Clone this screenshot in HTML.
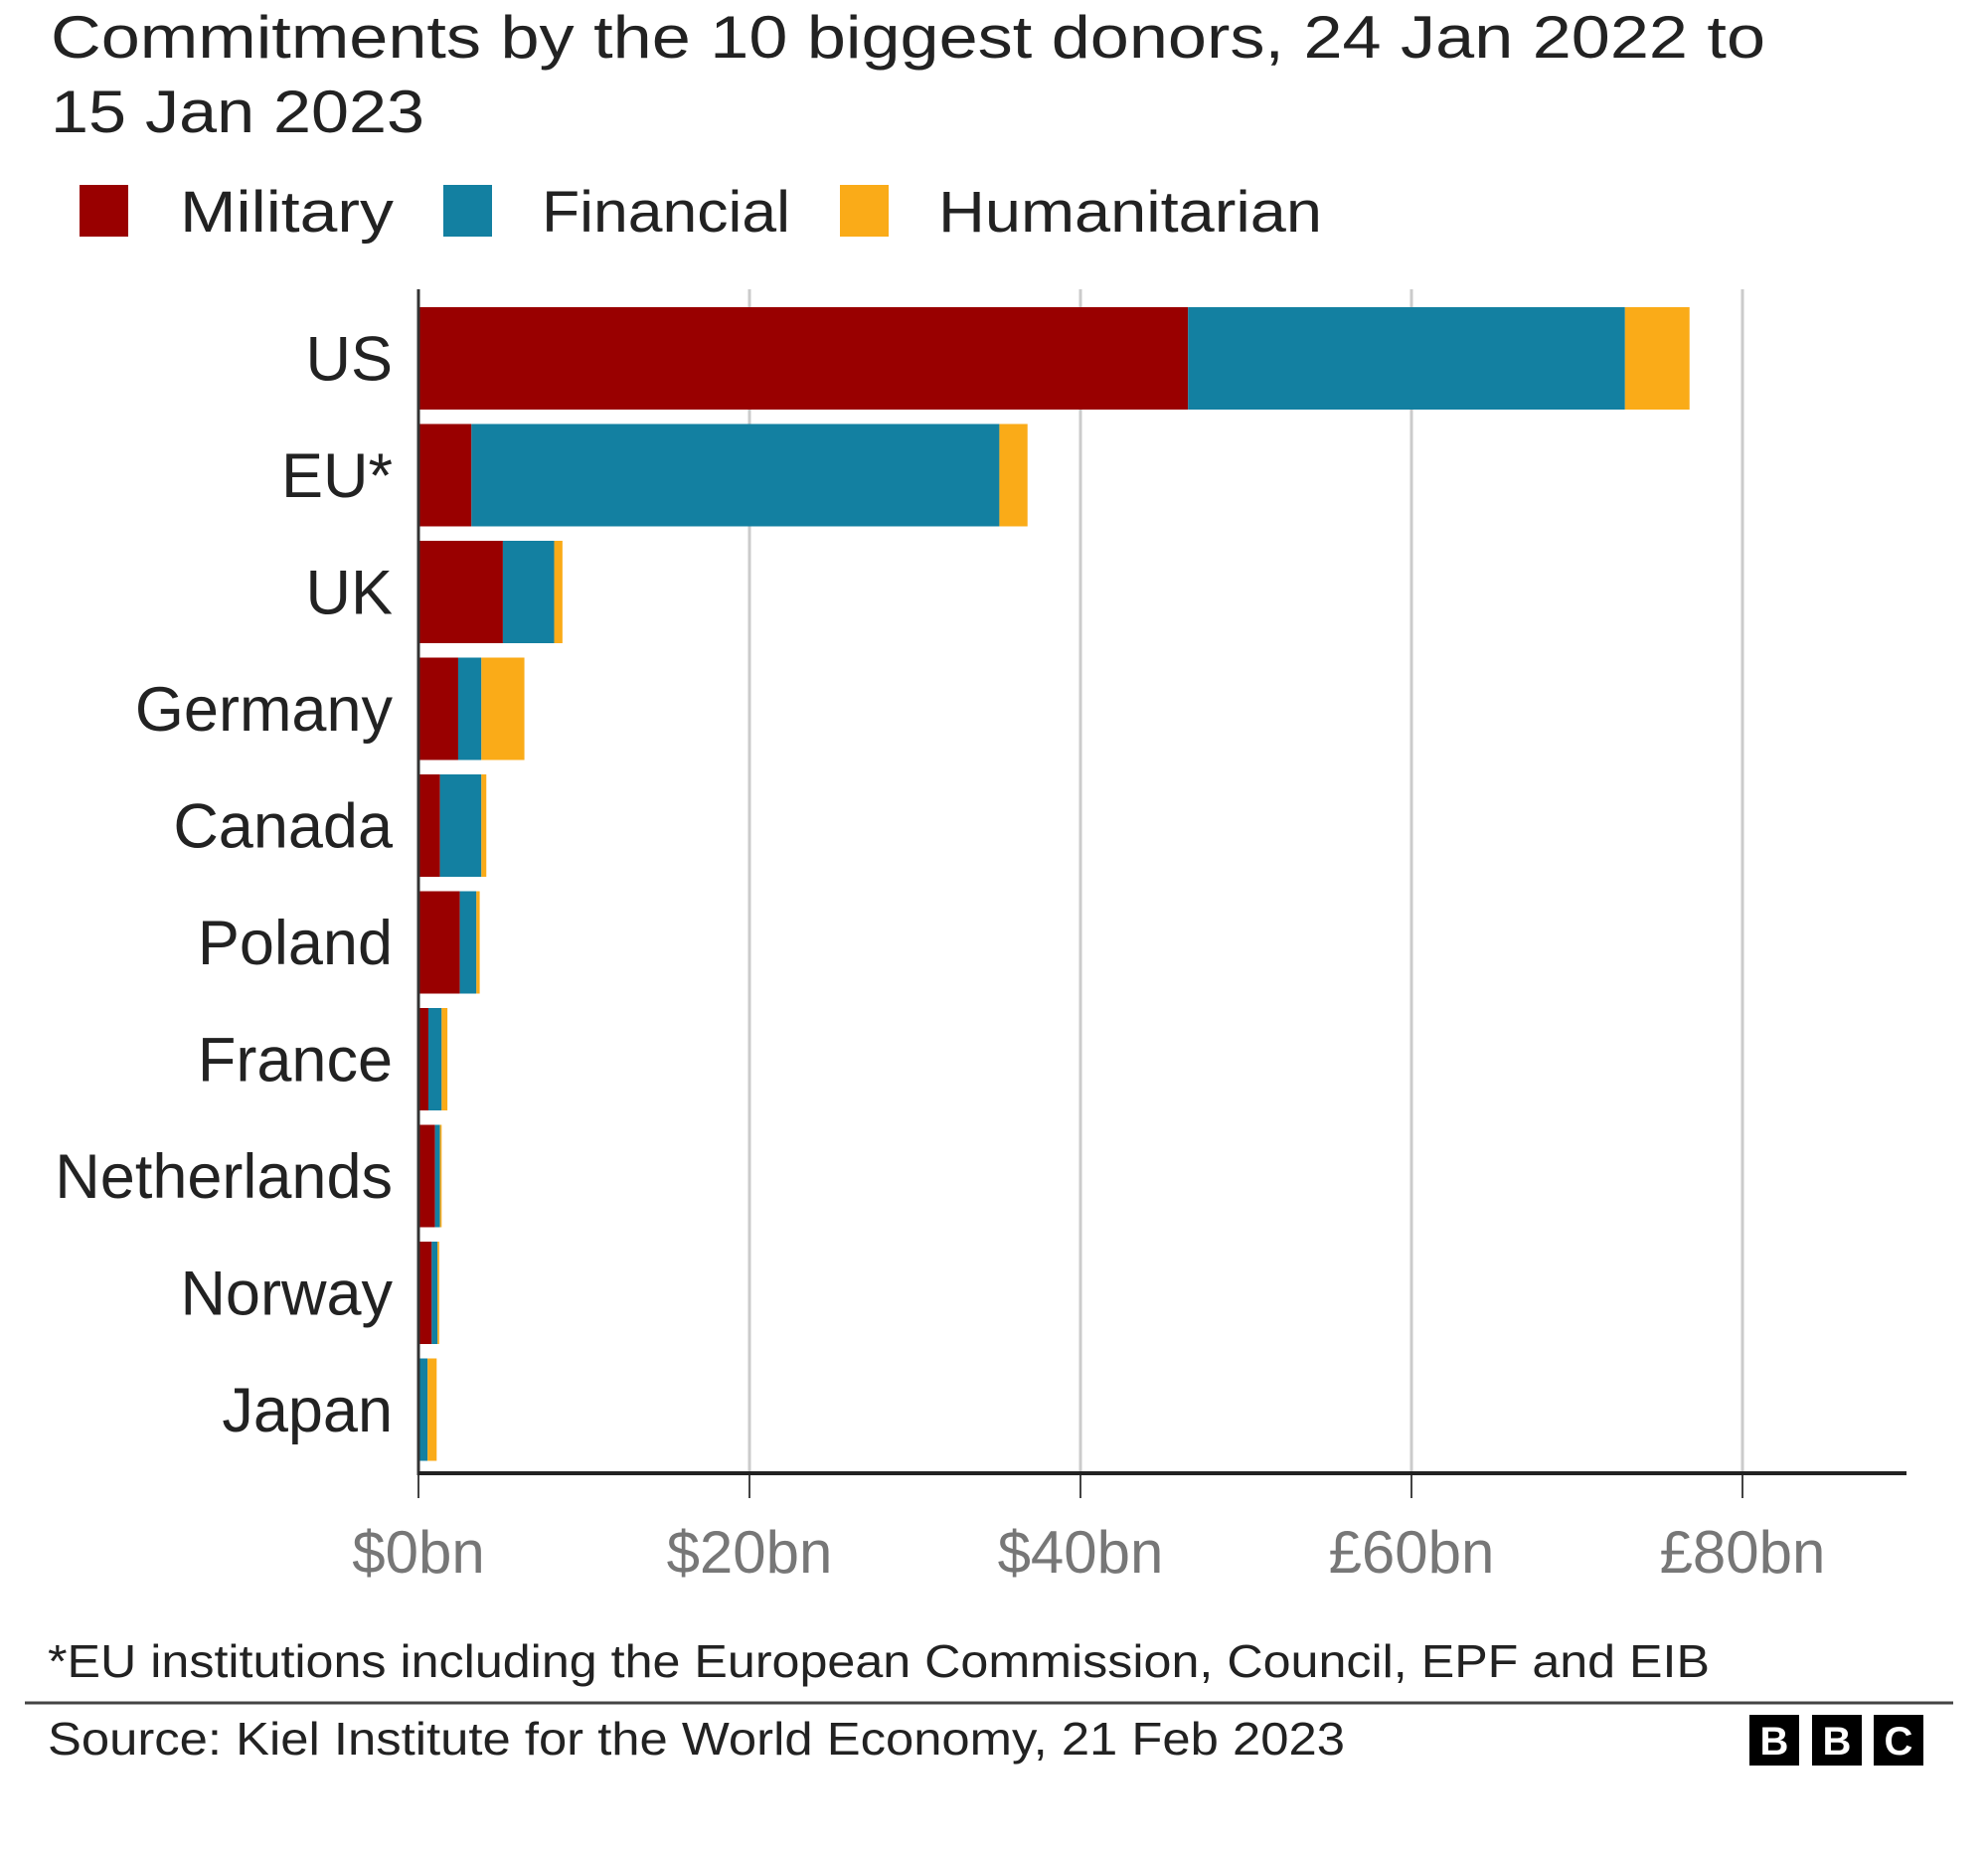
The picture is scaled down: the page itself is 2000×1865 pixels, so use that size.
<!DOCTYPE html>
<html><head><meta charset="utf-8"><style>
html,body{margin:0;padding:0;background:#fff;}
svg{display:block;font-family:"Liberation Sans",sans-serif;}
</style></head>
<body>
<svg id="chart" width="2000" height="1865" viewBox="0 0 2000 1865">
  <text x="51" y="58" font-size="60" fill="#222" textLength="1725" lengthAdjust="spacingAndGlyphs">Commitments by the 10 biggest donors, 24 Jan 2022 to</text>
  <text x="51" y="133" font-size="60" fill="#222" textLength="376" lengthAdjust="spacingAndGlyphs">15 Jan 2023</text>
  <g>
    <rect x="80" y="186" width="49" height="52" fill="#990000"/>
    <text x="181" y="233" font-size="58" fill="#222" textLength="215" lengthAdjust="spacingAndGlyphs">Military</text>
    <rect x="446" y="186" width="49" height="52" fill="#1380a1"/>
    <text x="545" y="233" font-size="58" fill="#222" textLength="250" lengthAdjust="spacingAndGlyphs">Financial</text>
    <rect x="845" y="186" width="49" height="52" fill="#faab18"/>
    <text x="944" y="233" font-size="58" fill="#222" textLength="386" lengthAdjust="spacingAndGlyphs">Humanitarian</text>
  </g>
  <g id="grid"></g>
  <g id="bars"></g>
  <g id="ylabels"></g>
  <g id="xaxis"></g>
  <text x="48" y="1687" font-size="46" fill="#222" textLength="1672" lengthAdjust="spacingAndGlyphs">*EU institutions including the European Commission, Council, EPF and EIB</text>
  <line x1="25" y1="1713" x2="1965" y2="1713" stroke="#444" stroke-width="3"/>
  <text x="48" y="1765" font-size="46" fill="#222" textLength="1305" lengthAdjust="spacingAndGlyphs">Source: Kiel Institute for the World Economy, 21 Feb 2023</text>
  <g>
    <rect x="1760" y="1725" width="50" height="51" fill="#000"/>
    <rect x="1823" y="1725" width="50" height="51" fill="#000"/>
    <rect x="1885" y="1725" width="50" height="51" fill="#000"/>
    <text x="1785" y="1765" font-size="40" font-weight="bold" fill="#fff" text-anchor="middle">B</text>
    <text x="1848" y="1765" font-size="40" font-weight="bold" fill="#fff" text-anchor="middle">B</text>
    <text x="1910" y="1765" font-size="40" font-weight="bold" fill="#fff" text-anchor="middle">C</text>
  </g>
</svg>
<script>
const categories = ["US","EU*","UK","Germany","Canada","Poland","France","Netherlands","Norway","Japan"];
const military = [46.5, 3.2, 5.1, 2.4, 1.3, 2.5, 0.6, 1.0, 0.8, 0];
const financial = [26.4, 31.9, 3.1, 1.4, 2.5, 1.0, 0.8, 0.3, 0.35, 0.55];
const humanitarian = [3.9, 1.7, 0.5, 2.6, 0.3, 0.2, 0.35, 0.1, 0.1, 0.55];
const tickValues = [0, 20, 40, 60, 80];
const tickLabels = ["$0bn","$20bn","$40bn","£60bn","£80bn"];

const NS = "http://www.w3.org/2000/svg";
const X0 = 421, PX_PER_BN = 333/20;
const xScale = v => X0 + v * PX_PER_BN;
const TOP = 309, STEP = 117.5, BAR_H = 103;
const yScale = i => TOP + i * STEP;
function mk(tag, attrs, parent) {
  const e = document.createElementNS(NS, tag);
  for (const k in attrs) e.setAttribute(k, attrs[k]);
  parent.appendChild(e);
  return e;
}
const grid = document.getElementById("grid");
const bars = document.getElementById("bars");
const ylabels = document.getElementById("ylabels");
const xaxis = document.getElementById("xaxis");

tickValues.forEach((v, i) => {
  if (v > 0) {
    const g = mk("line", {x1: xScale(v), x2: xScale(v), y1: 291, y2: 1482, stroke: "#cbcbcb", "stroke-width": 3}, grid);
    
    
  }
  const t = mk("line", {x1: xScale(v), x2: xScale(v), y1: 1482, y2: 1507, stroke: "#444", "stroke-width": 2}, xaxis);
  
  
  const l = mk("text", {x: xScale(v), y: 1582, "font-size": 60, fill: "#777", "text-anchor": "middle"}, xaxis);
  l.textContent = tickLabels[i];
  
  
});
const axY = mk("line", {x1: X0, x2: X0, y1: 291, y2: 1484, stroke: "#333", "stroke-width": 3}, xaxis);


const axX = mk("line", {x1: X0, x2: 1918, y1: 1482, y2: 1482, stroke: "#222", "stroke-width": 4}, xaxis);



const series = [["military", military, "#990000"], ["financial", financial, "#1380a1"], ["humanitarian", humanitarian, "#faab18"]];
categories.forEach((c, i) => {
  let acc = 0;
  series.forEach(([name, vals, col]) => {
    const v = vals[i];
    if (v > 0) {
      const r = mk("rect", {x: xScale(acc), y: yScale(i), width: xScale(acc + v) - xScale(acc), height: BAR_H, fill: col}, bars);
      
      
    }
    acc += v;
  });
  const t = mk("text", {x: 395, y: yScale(i) + BAR_H/2 + 22, "font-size": 63, fill: "#222", "text-anchor": "end"}, ylabels);
  t.textContent = c;
  
  
});
</script>
</body></html>
